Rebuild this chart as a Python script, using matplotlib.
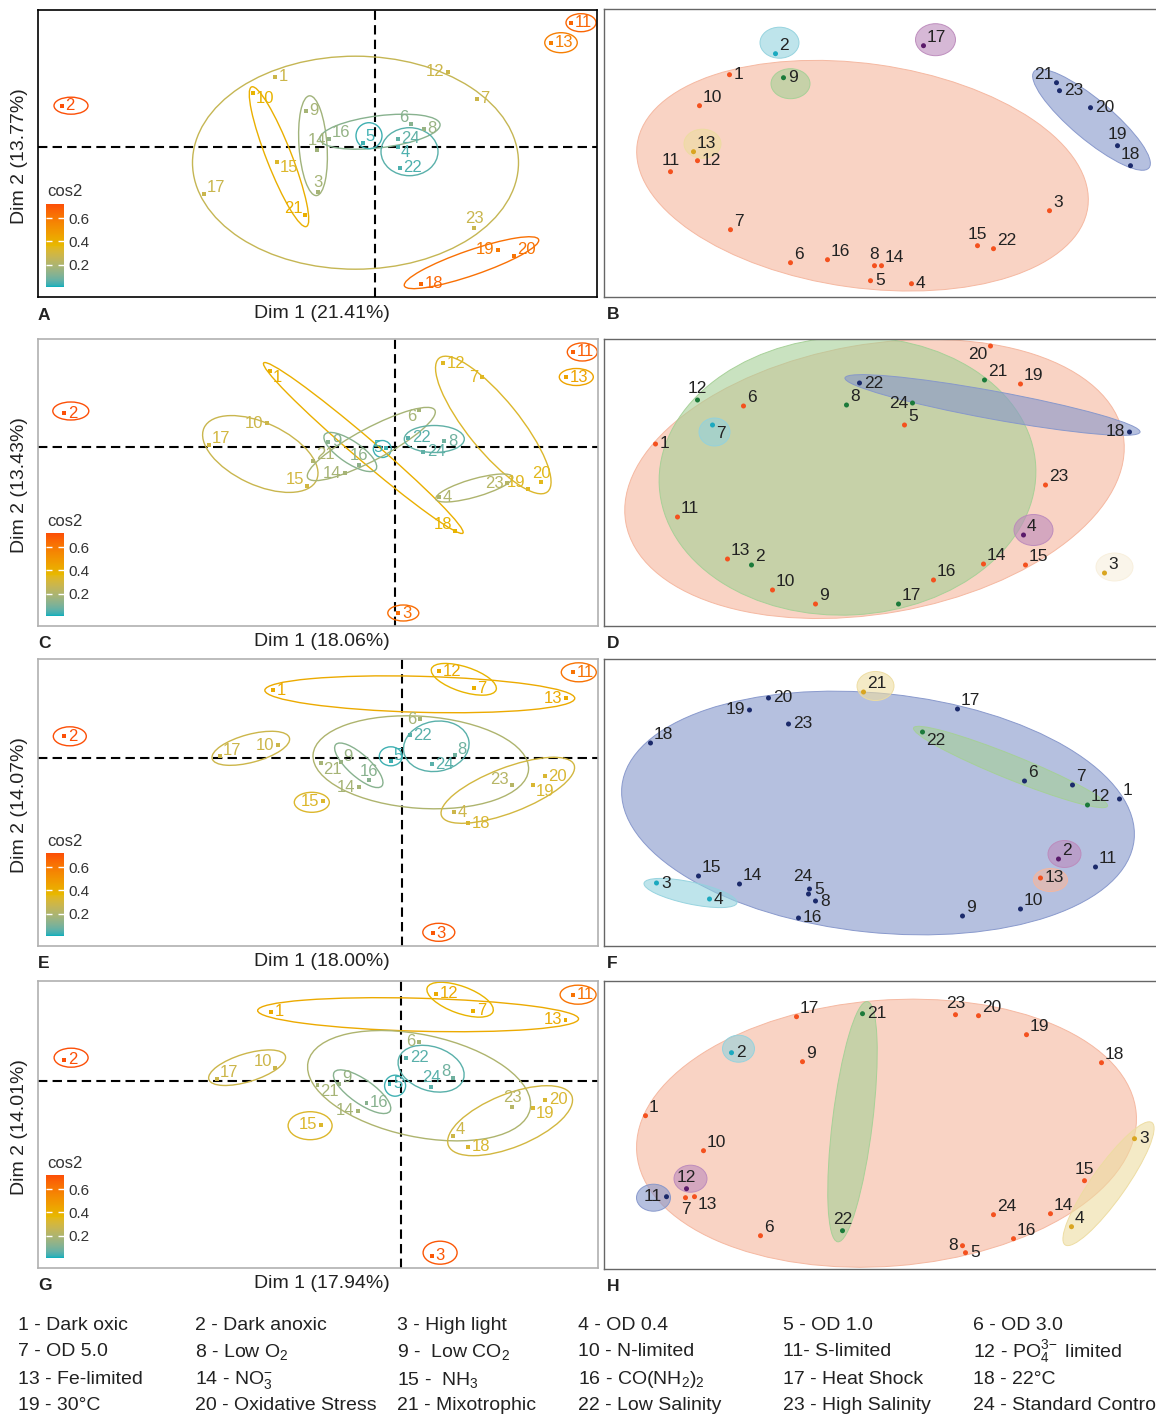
"""Eight-panel PCA / clustering figure with condition legend."""
import numpy as np
import matplotlib.pyplot as plt
import matplotlib.colors as mcolors
from matplotlib.patches import Ellipse
from matplotlib.cm import ScalarMappable

plt.rcParams['font.family'] = ['Liberation Sans', 'DejaVu Sans']

FIG_W, FIG_H = 1156, 1417
UNIT = 10.0  # pixels per score unit

# ---------------------------------------------------------------- data
# PCA individuals (A, C, E, G): Dim1 / Dim2 scores, cos2 per condition 1..24
a_x = [-10.0, -31.3, -5.7, 2.3, -1.2, 3.6, 10.2, 4.9, -6.9, -12.2, 19.6, 7.3,
       17.6, -5.8, -9.8, -4.6, -17.1, 4.6, 12.3, 13.9, -7.0, 2.5, 9.9, 2.3]
a_y = [7.0, 4.1, -4.5, 0.0, 0.4, 2.3, 4.8, 1.8, 3.6, 5.4, 12.4, 7.5,
       10.4, -0.3, -1.5, 0.8, -4.7, -13.7, -10.3, -10.9, -6.8, -2.1, -8.1, 0.8]
a_cos2 = [0.28, 0.72, 0.18, 0.04, 0.03, 0.12, 0.28, 0.15, 0.18, 0.38, 0.66, 0.28,
          0.58, 0.17, 0.33, 0.14, 0.27, 0.66, 0.60, 0.62, 0.40, 0.04, 0.27, 0.06]
# group ellipses: centre x, centre y, width, height, angle, cos2
a_ellipses = [
    (-1.95, -1.6, 32.6, 21.3, 0, 0.26), (-9.6, -1.0, 15.0, 2.5, -68.6, 0.40),
    (-6.2, 0.1, 10.0, 2.8, 94, 0.17), (0.5, 1.5, 12.1, 3.2, 7, 0.12),
    (-0.6, 1.1, 2.6, 2.6, 0, 0.03), (3.45, -0.5, 5.7, 4.8, 0, 0.05),
    (9.65, -11.6, 14.2, 2.5, 19, 0.63), (-30.4, 4.1, 3.4, 1.7, 0, 0.72),
    (20.6, 12.4, 3.0, 1.8, 0, 0.66), (18.6, 10.4, 3.25, 2.0, 0, 0.58),
]

c_x = [-12.5, -33.1, 0.3, 4.4, -0.9, 2.4, 8.7, 4.9, -6.7, -12.8, 17.8, 4.8,
       17.1, -5.0, -8.8, -3.6, -18.6, 6.0, 13.3, 14.6, -8.2, 1.3, 11.2, 2.8]
c_y = [7.6, 3.4, -16.6, -5.0, -0.1, 3.7, 7.0, 0.6, 0.5, 2.4, 9.5, 8.4,
       7.0, -2.6, -3.9, -1.8, 0.2, -8.4, -4.2, -3.5, -1.4, 0.9, -3.6, -0.5]
c_cos2 = [0.40, 0.72, 0.64, 0.20, 0.03, 0.18, 0.34, 0.08, 0.12, 0.28, 0.68, 0.34,
          0.45, 0.18, 0.30, 0.13, 0.30, 0.38, 0.34, 0.35, 0.20, 0.05, 0.22, 0.06]
c_ellipses = [
    (-32.45, 3.6, 3.6, 1.8, 0, 0.72), (0.8, -16.6, 3.1, 1.6, 0, 0.64),
    (18.7, 9.5, 3.0, 1.8, 0, 0.68), (18.1, 7.0, 3.4, 1.7, 0, 0.45),
    (-1.3, -0.2, 1.8, 1.7, 0, 0.03), (-13.5, -0.7, 12.4, 6.2, -25, 0.27),
    (-3.2, -0.1, 26.2, 2.2, -40.5, 0.40), (-2.4, 0.3, 14.4, 3.2, 28, 0.18),
    (-4.5, -0.5, 6.2, 2.2, -34, 0.12), (3.9, 0.8, 6.0, 2.7, 0, 0.06),
    (9.8, 2.2, 17.2, 5.2, -51, 0.33), (7.9, -4.1, 8.0, 1.8, 16, 0.20),
]

e_x = [-12.9, -33.75, 3.1, 5.2, -1.1, 1.8, 7.2, 5.3, -6.1, -12.4, 17.15, 3.75,
       16.4, -4.3, -7.9, -3.3, -18.2, 6.6, 13.1, 14.3, -8.1, 0.8, 11.0, 3.0]
e_y = [6.8, 2.2, -17.5, -5.4, -0.3, 3.9, 7.0, 0.3, -0.4, 1.3, 8.6, 8.7,
       6.0, -2.9, -4.3, -2.2, 0.2, -6.5, -2.7, -1.8, -0.5, 2.3, -2.7, -0.6]
e_cos2 = [0.42, 0.72, 0.70, 0.28, 0.03, 0.18, 0.40, 0.08, 0.15, 0.28, 0.62, 0.42,
          0.42, 0.18, 0.33, 0.12, 0.28, 0.32, 0.32, 0.32, 0.18, 0.05, 0.22, 0.05]
e_ellipses = [
    (-33.2, 2.2, 3.3, 1.9, 0, 0.72), (3.7, -17.4, 3.2, 1.8, 0, 0.70),
    (17.7, 8.6, 3.5, 1.9, 0, 0.62), (-9.0, -4.4, 3.5, 2.0, 0, 0.33),
    (-1.1, 0.2, 2.3, 1.9, 0, 0.03), (1.8, 6.4, 31.0, 3.6, -1.5, 0.42),
    (6.2, 7.9, 6.8, 2.5, -18, 0.38), (-15.1, 1.0, 8.0, 2.8, 15, 0.28),
    (1.9, -0.4, 21.6, 9.2, -4, 0.20), (-4.3, -0.7, 6.2, 2.2, -42, 0.12),
    (3.45, 1.2, 6.6, 5.0, 10, 0.05), (10.6, -3.2, 14.2, 4.5, 21, 0.30),
]

g_x = [-13.0, -33.7, 3.1, 5.2, -1.15, 1.8, 7.2, 5.2, -6.2, -12.6, 17.2, 3.5,
       16.45, -4.3, -8.0, -3.45, -18.4, 6.7, 13.2, 14.4, -8.35, 0.5, 11.1, 3.0]
g_y = [6.9, 2.1, -17.5, -5.5, -0.3, 3.9, 7.0, 0.3, -0.3, 1.3, 8.6, 8.7,
       6.1, -3.0, -4.4, -2.2, 0.2, -6.6, -2.7, -1.9, -0.4, 2.3, -2.6, -0.6]
g_cos2 = [0.42, 0.72, 0.70, 0.28, 0.03, 0.18, 0.40, 0.08, 0.15, 0.28, 0.62, 0.42,
          0.42, 0.18, 0.33, 0.12, 0.28, 0.32, 0.32, 0.32, 0.18, 0.05, 0.22, 0.05]
g_ellipses = [
    (-33.0, 2.3, 3.4, 1.9, 0, 0.72), (3.9, -17.2, 3.4, 2.3, 0, 0.70),
    (17.7, 8.6, 3.6, 1.9, 0, 0.62), (-9.1, -4.5, 4.4, 2.8, 0, 0.33),
    (-0.6, -0.5, 2.1, 2.1, 0, 0.03), (1.7, 6.6, 32.1, 3.3, -1.5, 0.42),
    (5.9, 8.1, 7.0, 2.7, -20, 0.38), (-15.4, 1.3, 8.0, 2.8, 17, 0.28),
    (1.8, -0.5, 22.7, 10.2, -12, 0.20), (-3.9, -1.1, 6.8, 2.4, -35, 0.12),
    (3.0, 1.2, 6.8, 4.4, -18, 0.05), (10.9, -4.0, 13.3, 5.3, 22, 0.30),
]

# cluster maps (B, D, F, H): coordinates and cluster of each condition
b_x = [12.6, 17.2, 44.6, 30.8, 26.7, 18.7, 12.7, 27.1, 18.0, 9.6, 6.7, 9.4,
       9.0, 27.8, 37.4, 22.4, 32.0, 52.7, 51.4, 48.7, 45.3, 39.0, 45.6]
b_y = [22.2, 24.3, 8.6, 1.3, 1.6, 3.4, 6.7, 3.1, 21.9, 19.1, 12.5, 13.6,
       14.5, 3.1, 5.1, 3.7, 25.1, 13.1, 15.1, 18.9, 21.4, 4.8, 20.6]
b_cluster = "o t o o o o o o g o o o y o o o p n n n n o n".split()
b_ellipses = [  # centre x, centre y, width, height, angle, cluster
    (25.9, 12.1, 45.5, 22.4, -8, 'o'), (17.6, 25.4, 3.9, 3.1, 0, 't'),
    (18.7, 21.3, 3.9, 3.0, 0, 'g'), (9.9, 15.3, 3.7, 2.9, 0, 'y'),
    (33.2, 25.7, 4.0, 3.2, 0, 'p'), (48.8, 17.7, 15.0, 4.0, -40, 'n'),
]

d_x = [5.2, 14.8, 50.1, 42.0, 30.1, 14.0, 10.9, 24.3, 21.2, 16.9, 7.4, 9.4,
       12.4, 38.0, 42.2, 33.0, 29.5, 52.6, 41.7, 38.7, 38.1, 25.6, 44.2, 30.9]
d_y = [18.2, 6.1, 5.3, 9.1, 20.1, 22.0, 20.1, 22.1, 2.2, 3.6, 10.9, 22.6,
       6.7, 6.2, 6.1, 4.6, 2.2, 19.4, 24.2, 28.0, 24.6, 24.3, 14.1, 22.3]
d_cluster = "o g y p o o t g o o o g o o o o g n o o g n o g".split()
d_ellipses = [
    (27.1, 14.7, 50.5, 26.9, 10, 'o'), (24.4, 15.0, 37.7, 27.8, 3, 'g'),
    (38.9, 22.1, 30.0, 2.8, -10.4, 'n'), (11.1, 19.4, 3.1, 2.8, 0, 't'),
    (43.0, 9.6, 3.9, 3.1, 0, 'p'), (51.1, 5.9, 3.7, 2.8, 0, 'w'),
]

f_x = [51.6, 45.5, 5.3, 10.6, 20.6, 42.1, 46.9, 21.2, 35.9, 41.7, 49.2, 48.4,
       43.7, 13.6, 9.5, 19.5, 35.4, 4.7, 14.6, 16.5, 26.0, 31.9, 18.5, 20.5]
f_y = [14.7, 8.7, 6.3, 4.7, 5.7, 16.5, 16.1, 4.5, 3.0, 3.7, 7.9, 14.1,
       6.8, 6.2, 7.0, 2.8, 23.7, 20.3, 23.6, 24.8, 25.4, 21.4, 22.2, 5.2]
f_cluster = "n p t t n n n n n n n g o n n n n n n n y g n n".split()
f_ellipses = [
    (27.45, 13.3, 51.5, 23.9, -6, 'n'), (40.7, 17.9, 20.9, 2.4, -22, 'g'),
    (8.7, 5.3, 9.5, 2.2, -12, 't'), (27.2, 26.0, 3.7, 2.9, 0, 'y'),
    (46.1, 9.2, 3.3, 2.7, 0, 'p'), (44.7, 6.6, 3.4, 2.3, 0, 'o'),
]

h_x = [4.2, 12.8, 53.1, 46.8, 36.2, 15.7, 8.2, 35.9, 19.9, 10.0, 6.3, 8.3,
       9.1, 44.7, 48.1, 41.0, 19.3, 49.8, 42.3, 37.5, 25.9, 23.9, 35.2, 39.0]
h_y = [15.3, 21.6, 13.0, 4.2, 1.6, 3.3, 7.1, 2.3, 20.7, 11.8, 7.2, 8.0,
       7.2, 5.5, 8.8, 3.0, 25.2, 20.6, 23.4, 25.3, 25.5, 3.8, 25.4, 5.4]
h_cluster = "o t y y o o o o o o n p o o o o o o o o g g o o".split()
h_ellipses = [
    (28.3, 13.55, 50.1, 26.6, 4.5, 'o'), (24.9, 14.7, 24.2, 4.0, 83, 'g'),
    (50.5, 8.5, 15.0, 3.4, 54.6, 'y'), (13.5, 22.0, 3.2, 2.7, 0, 't'),
    (5.0, 7.1, 3.4, 2.7, 0, 'n'), (8.7, 9.0, 3.3, 2.7, 0, 'p'),
]

condition_names = [
    "1 - Dark oxic", "2 - Dark anoxic", "3 - High light", "4 - OD 0.4",
    "5 - OD 1.0", "6 - OD 3.0",
    "7 - OD 5.0", r"8 - Low O$\mathregular{_2}$", r"9 -  Low CO$\mathregular{_2}$",
    "10 - N-limited", "11- S-limited", r"12 - PO$\mathregular{_4^{3\!-}}$ limited",
    "13 - Fe-limited", r"14 - NO$\mathregular{_3^{\!-}}$", r"15 -  NH$\mathregular{_3}$",
    r"16 - CO(NH$\mathregular{_2}$)$\mathregular{_2}$", "17 - Heat Shock", "18 - 22°C",
    "19 - 30°C", "20 - Oxidative Stress", "21 - Mixotrophic", "22 - Low Salinity",
    "23 - High Salinity", "24 - Standard Control",
]

# ------------------------------------------------------ label placement
a_lab = "r r u dr ur ul r r r dr r l r u dr ur ur r l ur ul r u r".split()
c_lab = "dr r r r l dl l r r l r r r l ul u ur ul ul u ur r l r".split()
e_lab = "r r r r ur l r ur ur l r r l l l u ur r dr r dr r ul r".split()
g_lab = "r r r ur r l r ul ur ul r r l l l r ur r dr r dr r u u".split()
b_lab = "r ur ur r r ur ur u r ur u r ur ur u ur ur u u r ul ur r".split()
d_lab = "r ur ur ur ur ur dr ur ur ur ur u ur ur ur ur ur l ur dl ur r ur l".split()
f_lab = "ur ur r r r ur ur r ur ur ur ur r ur ur r ur ur l r ur dr r uu".split()
h_lab = "ur r r ur r ur d l ur ur l u dr ur u ur ur ur ur ur r u u ur".split()

OFFSETS = {
    'r': (4, 0, 'left'), 'l': (-4, 0, 'right'), 'u': (0, 10, 'center'),
    'd': (0, -10, 'center'), 'ur': (3, 7, 'left'), 'ul': (-3, 7, 'right'),
    'dr': (3, -7, 'left'), 'dl': (-3, -7, 'right'), 'uu': (-5, 15, 'center'),
}

# ---------------------------------------------------------------- colours
M_RGB2XYZ = np.array([[0.4124, 0.3576, 0.1805],
                      [0.2126, 0.7152, 0.0722],
                      [0.0193, 0.1192, 0.9505]])
WHITE = np.array([0.95047, 1.0, 1.08883])


def to_lab(hexcol):
    rgb = np.array(mcolors.to_rgb(hexcol))
    lin = np.where(rgb <= 0.04045, rgb / 12.92, ((rgb + 0.055) / 1.055) ** 2.4)
    xyz = M_RGB2XYZ @ lin / WHITE
    f = np.where(xyz > 0.008856, np.cbrt(xyz), 7.787 * xyz + 16 / 116)
    return np.array([116 * f[1] - 16, 500 * (f[0] - f[1]), 200 * (f[1] - f[2])])


def from_lab(lab):
    fy = (lab[:, 0] + 16) / 116
    f = np.stack([fy + lab[:, 1] / 500, fy, fy - lab[:, 2] / 200], axis=1)
    xyz = np.where(f > 0.2069, f ** 3, (f - 16 / 116) / 7.787) * WHITE
    lin = np.clip(xyz @ np.linalg.inv(M_RGB2XYZ).T, 0, 1)
    rgb = np.where(lin <= 0.0031308, 12.92 * lin, 1.055 * lin ** (1 / 2.4) - 0.055)
    return np.clip(rgb, 0, 1)


# teal -> gold -> orange gradient, interpolated in Lab like ggplot does
stops = np.array([to_lab(c) for c in ["#00AFBB", "#E7B800", "#FC4E07"]])
t = np.linspace(0, 1, 256)
seg = np.minimum((t * 2).astype(int), 1)
frac = t * 2 - seg
labs = stops[seg] + (stops[seg + 1] - stops[seg]) * frac[:, None]
CMAP = mcolors.ListedColormap(from_lab(labs))
NORM = mcolors.Normalize(vmin=0.005, vmax=0.725)

FILL = {'o': '#F5B69E', 'g': '#A5D096', 'n': '#8596CB', 't': '#93D2DE',
        'p': '#BC8ABC', 'y': '#EDDCA0', 'w': '#F8EFDC'}
DOT = {'o': '#F4511E', 'g': '#1B7A3A', 'n': '#1B2A6B', 't': '#1BA9BF',
       'p': '#5A1A6A', 'y': '#D9A520'}

fig = plt.figure(figsize=(FIG_W / 100, FIG_H / 100), dpi=100)
fig.patch.set_facecolor('white')


def px_axes(left, top, right, bottom):
    return fig.add_axes([left / FIG_W, 1 - bottom / FIG_H,
                         (right - left) / FIG_W, (bottom - top) / FIG_H])


def put_labels(ax, xs, ys, codes, colors, size, scale):
    for i, (x, y) in enumerate(zip(xs, ys)):
        dx, dy, ha = OFFSETS[codes[i]]
        ax.annotate(str(i + 1), (x, y), xytext=(dx * scale, dy * scale),
                    textcoords='offset pixels', ha=ha, va='center',
                    fontsize=size, color=colors[i], zorder=5)


def pca_panel(rect, origin, xs, ys, cos2, ellipses, codes, frame, xlabel, ylabel, letter):
    left, top, right, bottom = rect
    ox, oy = origin
    ax = px_axes(*rect)
    ax.set_xlim((left - ox) / UNIT, (right - ox) / UNIT)
    ax.set_ylim((oy - bottom) / UNIT, (oy - top) / UNIT)
    ax.set_xticks([])
    ax.set_yticks([])
    for sp in ax.spines.values():
        sp.set_color(frame)
        sp.set_linewidth(1.2)
    ax.axhline(0, color='black', lw=1.5, ls=(0, (4.5, 2.5)), zorder=1)
    ax.axvline(0, color='black', lw=1.5, ls=(0, (4.5, 2.5)), zorder=1)
    for cx, cy, w, h, ang, c in ellipses:
        ax.add_patch(Ellipse((cx, cy), w, h, angle=ang, fill=False,
                             edgecolor=CMAP(NORM(c)), lw=1.0, zorder=2))
    cols = [CMAP(NORM(c)) for c in cos2]
    ax.scatter(xs, ys, s=7, c=cols, marker='s', linewidths=0, zorder=3)
    put_labels(ax, xs, ys, codes, cols, 12, 0.9)

    # cos2 colour bar
    cax = px_axes(left + 8, bottom - 93, left + 26, bottom - 10)
    cb = fig.colorbar(ScalarMappable(norm=NORM, cmap=CMAP), cax=cax, ticks=[0.2, 0.4, 0.6])
    cb.outline.set_visible(False)
    cax.tick_params(direction='in', length=4, width=1, color='white', left=True,
                    right=True, labelsize=11, labelcolor='#333333', pad=3)
    fig.text((left + 9) / FIG_W, 1 - (bottom - 105) / FIG_H, 'cos2',
             fontsize=12, color='#333333', ha='left', va='center')

    fig.text(322 / FIG_W, 1 - (bottom + 16) / FIG_H, xlabel, fontsize=14,
             color='#222222', ha='center', va='center')
    fig.text(20 / FIG_W, 1 - ((top + bottom) / 2 + 3) / FIG_H, ylabel, fontsize=14,
             color='#222222', ha='center', va='center', rotation=90)
    fig.text(left / FIG_W, 1 - (bottom + 18) / FIG_H, letter, fontsize=12.5,
             fontweight='bold', color='#222222', ha='left', va='center')


def cluster_panel(rect, xs, ys, clusters, ellipses, codes, letter):
    left, top, right, bottom = rect
    ax = px_axes(*rect)
    ax.set_xlim(0, (right - left) / UNIT)
    ax.set_ylim(0, (bottom - top) / UNIT)
    ax.set_xticks([])
    ax.set_yticks([])
    for sp in ax.spines.values():
        sp.set_color('#666666')
        sp.set_linewidth(1.0)
    for cx, cy, w, h, ang, k in ellipses:
        ax.add_patch(Ellipse((cx, cy), w, h, angle=ang,
                             facecolor=mcolors.to_rgba(FILL[k], 0.6),
                             edgecolor=mcolors.to_rgba(FILL[k], 0.95), lw=0.7, zorder=2))
    ax.scatter(xs, ys, s=13, c=[DOT[k] for k in clusters], linewidths=0, zorder=3)
    put_labels(ax, xs, ys, codes, ['#222222'] * len(xs), 12.5, 1.15)
    fig.text((left + 3) / FIG_W, 1 - (bottom + 18) / FIG_H, letter, fontsize=12.5,
             fontweight='bold', color='#222222', ha='left', va='center')


pca_panel((38, 10, 597, 297), (375, 146.7), a_x, a_y, a_cos2, a_ellipses, a_lab,
          'black', 'Dim 1 (21.41%)', 'Dim 2 (13.77%)', 'A')
pca_panel((38, 339, 598, 626), (395.3, 447), c_x, c_y, c_cos2, c_ellipses, c_lab,
          '#B0B0B0', 'Dim 1 (18.06%)', 'Dim 2 (13.43%)', 'C')
pca_panel((38, 659, 598, 946), (401.8, 758.3), e_x, e_y, e_cos2, e_ellipses, e_lab,
          '#B0B0B0', 'Dim 1 (18.00%)', 'Dim 2 (14.07%)', 'E')
pca_panel((38, 981, 598, 1268), (401.1, 1080.7), g_x, g_y, g_cos2, g_ellipses, g_lab,
          '#B0B0B0', 'Dim 1 (17.94%)', 'Dim 2 (14.01%)', 'G')

cluster_panel((603.5, 9.5, 1170, 296.7), b_x, b_y, b_cluster, b_ellipses, b_lab, 'B')
cluster_panel((603.5, 338.5, 1170, 626), d_x, d_y, d_cluster, d_ellipses, d_lab, 'D')
cluster_panel((603.5, 658.5, 1170, 946), f_x, f_y, f_cluster, f_ellipses, f_lab, 'F')
cluster_panel((603.5, 981, 1170, 1268.7), h_x, h_y, h_cluster, h_ellipses, h_lab, 'H')

# condition legend, 6 columns x 4 rows
col_x = [18, 195, 397, 578, 783, 973]
row_y = [1325, 1352, 1380, 1406]
for i, name in enumerate(condition_names):
    fig.text(col_x[i % 6] / FIG_W, 1 - row_y[i // 6] / FIG_H, name, fontsize=14,
             color='#222222', ha='left', va='center')

fig.savefig('out.png', dpi=100)
